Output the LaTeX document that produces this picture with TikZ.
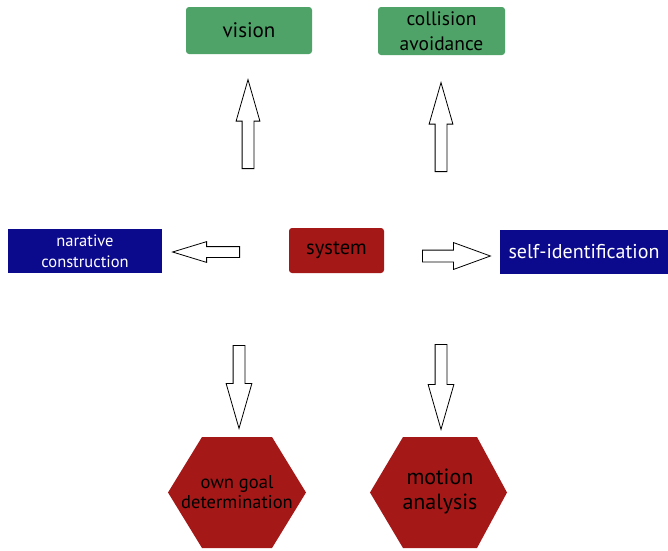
\documentclass[tikz,border=0pt]{standalone}
\usepackage{fontspec}
\setmainfont{PT Sans}
\usepackage{tikz}
\usetikzlibrary{shapes.arrows}
\definecolor{boxgreen}{RGB}{79,163,104}
\definecolor{boxblue}{RGB}{12,10,140}
\definecolor{boxred}{RGB}{165,24,24}
\tikzset{
  greenbox/.style={fill=boxgreen, rounded corners=3pt, inner sep=0pt, align=center, text=black},
  bluebox/.style={fill=boxblue, inner sep=0pt, align=center, text=white},
  redbox/.style={fill=boxred, rounded corners=3pt, inner sep=0pt, align=center, text=black},
  hextext/.style={inner sep=0pt, align=center, text=black},
  blockarrow/.style={single arrow, draw=black, thick, fill=white, anchor=tail, inner sep=5.5pt, single arrow head extend=6pt, single arrow tip angle=32}
}
\begin{document}
\begin{tikzpicture}[x=1pt,y=-1pt]
  \useasboundingbox (0,0) rectangle (668,550);

  \node[greenbox, minimum width=126pt, minimum height=47pt, font=\fontsize{21}{25}\selectfont] (vision) at (249,30.5) {vision};
  \node[greenbox, minimum width=127pt, minimum height=48pt, font=\fontsize{19.5}{25}\selectfont] (collision) at (441.5,31) {collision\\avoidance};
  \node[bluebox, minimum width=154pt, minimum height=44pt, font=\fontsize{16.5}{21}\selectfont] (narative) at (85,251) {narative\\construction};
  \node[redbox, minimum width=95pt, minimum height=45pt, font=\fontsize{20.5}{24}\selectfont] (system) at (336.5,250.5) {system};
  \node[bluebox, minimum width=168pt, minimum height=44pt, font=\fontsize{20}{24}\selectfont] (selfid) at (584,252) {self-identification};

  \fill[boxred] (168,492.5) -- (202,437) -- (272,437) -- (306,492.5) -- (272,548) -- (202,548) -- cycle;
  \fill[boxred] (370,492.5) -- (403,437) -- (477,437) -- (507,492.5) -- (477,548) -- (403,548) -- cycle;
  \node[hextext, font=\fontsize{18.5}{20}\selectfont] (owngoal) at (237,492.5) {own goal\\determination};
  \node[hextext, font=\fontsize{22}{25}\selectfont] (motion) at (440,491) {motion\\analysis};

  \node[blockarrow, rotate=90, minimum height=89pt] (tovision) at (248,169) {};
  \node[blockarrow, rotate=90, minimum height=89pt] (tocollision) at (441,172) {};
  \node[blockarrow, rotate=-90, minimum height=83pt, single arrow head extend=7pt] (toowngoal) at (239,345) {};
  \node[blockarrow, rotate=-90, minimum height=85pt, single arrow head extend=7pt] (tomotion) at (441,344) {};
  \node[blockarrow, rotate=180, minimum height=67pt, inner sep=5pt, single arrow head extend=5pt, single arrow tip angle=34] (tonarative) at (240,252) {};
  \node[blockarrow, minimum height=68pt, single arrow head extend=7.5pt, single arrow tip angle=40] (toselfid) at (422,256) {};
\end{tikzpicture}
\end{document}
